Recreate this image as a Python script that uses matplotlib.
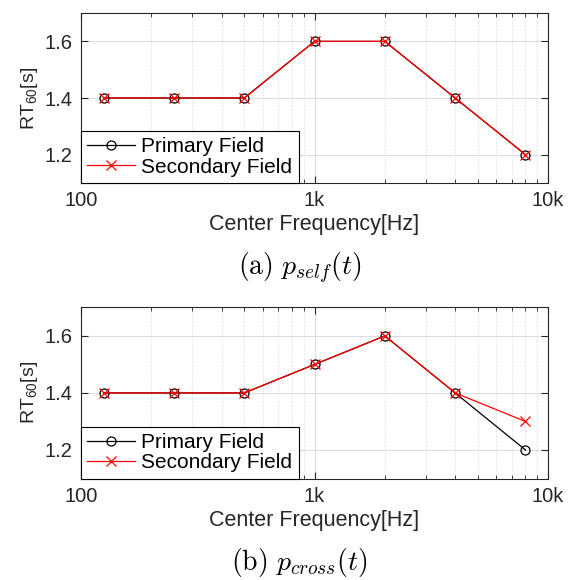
import matplotlib
matplotlib.use("Agg")
import matplotlib.pyplot as plt
from matplotlib.ticker import FixedLocator, LogLocator, NullFormatter

# octave-band centre frequencies (Hz)
freqs = [125, 250, 500, 1000, 2000, 4000, 8000]

# (a) p_self(t)
self_primary = [1.4, 1.4, 1.4, 1.6, 1.6, 1.4, 1.2]
self_secondary = [1.4, 1.4, 1.4, 1.6, 1.6, 1.4, 1.2]

# (b) p_cross(t)
cross_primary = [1.4, 1.4, 1.4, 1.5, 1.6, 1.4, 1.2]
cross_secondary = [1.4, 1.4, 1.4, 1.5, 1.6, 1.4, 1.3]

xticks = [100, 1000, 10000]
xticklabels = ["100", "1k", "10k"]
yticks = [1.2, 1.4, 1.6]

captions = [r"$\mathrm{(a)}\ p_{self}(t)$", r"$\mathrm{(b)}\ p_{cross}(t)$"]

plt.rcParams["font.family"] = ["Liberation Sans", "DejaVu Sans"]
plt.rcParams["mathtext.fontset"] = "custom"
plt.rcParams["mathtext.rm"] = "Liberation Sans"
plt.rcParams["mathtext.it"] = "Liberation Sans:italic"

TXT = "#262626"

fig = plt.figure(figsize=(5.76, 5.80), dpi=100)
positions = [[0.1406, 0.6845, 0.811, 0.293], [0.1406, 0.175, 0.811, 0.295]]
series = [(self_primary, self_secondary), (cross_primary, cross_secondary)]
caption_y = [0.537, 0.030]

for pos, (prim, sec), cap, cy in zip(positions, series, captions, caption_y):
    ax = fig.add_axes(pos)
    ax.plot(freqs, prim, color="black", lw=0.9, marker="o", ms=6.5, mfc="none",
            mew=0.9, label="Primary Field")
    ax.plot(freqs, sec, color="red", lw=0.9, marker="x", ms=6.5, mew=0.9,
            label="Secondary Field")
    ax.set_xscale("log")
    ax.set_xlim(100, 10000)
    ax.set_ylim(1.1, 1.7)
    ax.xaxis.set_major_locator(FixedLocator(xticks))
    ax.set_xticklabels(xticklabels)
    ax.xaxis.set_minor_locator(LogLocator(base=10, subs=range(2, 10)))
    ax.xaxis.set_minor_formatter(NullFormatter())
    ax.set_yticks(yticks)
    ax.set_yticklabels([f"{v:.1f}" for v in yticks])
    ax.grid(True, which="major", color="#dcdcdc", lw=0.8, ls="-")
    ax.grid(True, which="minor", axis="x", color="#c8c8c8", lw=0.6, ls=(0, (1, 2)))
    ax.set_axisbelow(True)
    ax.tick_params(which="both", direction="in", top=True, right=True,
                   colors=TXT, labelsize=14.5, pad=6)
    ax.tick_params(which="major", length=5)
    ax.tick_params(which="minor", length=3)
    for s in ax.spines.values():
        s.set_color(TXT)
        s.set_linewidth(0.8)
    ax.set_xlabel("Center Frequency[Hz]", fontsize=15.5, color=TXT, labelpad=3)
    ax.set_ylabel(r"RT$_{\mathrm{60}}$[s]", fontsize=14, color=TXT, labelpad=3)
    leg = ax.legend(loc="lower left", fontsize=15, fancybox=False, framealpha=1,
                    edgecolor="black", borderaxespad=0, borderpad=0.3,
                    handlelength=2.3, handletextpad=0.3, labelspacing=0.06)
    leg.get_frame().set_linewidth(0.8)
    fig.text(0.52, cy, cap, ha="center", va="center", fontsize=20,
             math_fontfamily="cm")

fig.savefig("out.png", dpi=100)
